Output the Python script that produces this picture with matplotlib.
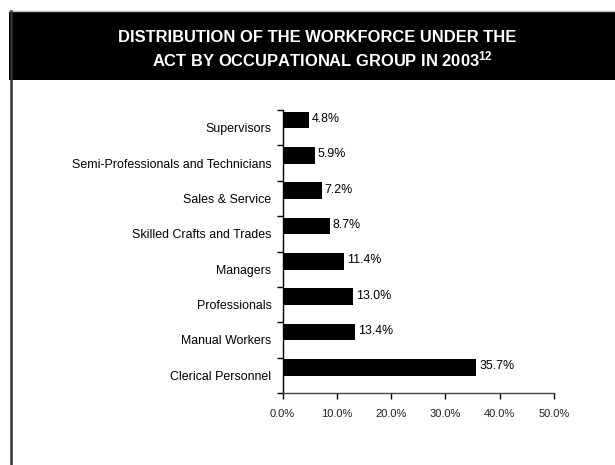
import numpy as np
import matplotlib
matplotlib.use("Agg")
import matplotlib.pyplot as plt
from matplotlib.patches import Rectangle
from matplotlib.lines import Line2D

# Data, top to bottom as in the chart
groups = ["Supervisors", "Semi-Professionals and Technicians", "Sales & Service",
          "Skilled Crafts and Trades", "Managers", "Professionals",
          "Manual Workers", "Clerical Personnel"]
shares = [4.8, 5.9, 7.2, 8.7, 11.4, 13.0, 13.4, 35.7]
xticks = [0, 10, 20, 30, 40, 50]
title_1 = "DISTRIBUTION OF THE WORKFORCE UNDER THE"
title_2 = r"ACT BY OCCUPATIONAL GROUP IN 2003$^{12}$"

plt.rcParams['font.family'] = ['Liberation Sans', 'DejaVu Sans']
plt.rcParams['mathtext.fontset'] = 'custom'
plt.rcParams['mathtext.rm'] = 'Liberation Sans:bold'
plt.rcParams['mathtext.it'] = 'Liberation Sans:bold'

W, H = 615, 465
fig = plt.figure(figsize=(W / 100, H / 100), dpi=100)

# frame: black header band and left border
fig.patches.append(Rectangle((9 / W, 1 - 80 / H), 1, 68 / H, transform=fig.transFigure,
                             facecolor="black", edgecolor="none"))
fig.lines.append(Line2D([9 / W, 1], [1 - 11.5 / H] * 2, transform=fig.transFigure,
                        color="#bbbbbb", lw=1))
fig.lines.append(Line2D([10.5 / W] * 2, [0, 1 - 11 / H], transform=fig.transFigure,
                        color="#333333", lw=1.8))

fig.text(317 / W, 1 - 41.7 / H, title_1, color="white", fontsize=11.9, fontweight="bold",
         ha="center", va="baseline")
fig.text(322 / W, 1 - 66.7 / H, title_2, color="white", fontsize=11.9, fontweight="bold",
         ha="center", va="baseline")

left, right, top, bottom = 282.5, 554, 110, 393
ax = fig.add_axes([left / W, 1 - bottom / H, (right - left) / W, (bottom - top) / H])

pos = np.arange(len(groups))
off = 0.28
ax.barh(pos, shares, height=0.47, color="black")
for p, v in zip(pos, shares):
    ax.text(v + 0.55, p - 0.03, f"{v:.1f}%", va="center", ha="left", fontsize=8.9)

ax.set_ylim(len(groups) - off, -off)
ax.set_xlim(0, 50)
ax.set_yticks(np.arange(len(groups) + 1) - off)
ax.set_yticklabels([])
ax.set_yticks(pos + 0.5 - off, groups, minor=True)
ax.tick_params(axis="y", which="minor", length=0, pad=8, labelsize=8.9)
ax.tick_params(axis="y", which="major", length=4, width=1)
ax.set_xticks(xticks, [f"{t:.1f}%" for t in xticks])
ax.tick_params(axis="x", length=4, width=1, labelsize=8, pad=7.5, labelcolor="#222222")
for s in ["top", "right"]:
    ax.spines[s].set_visible(False)
ax.spines["left"].set_linewidth(1)
ax.spines["bottom"].set_linewidth(1)
ax.spines["bottom"].set_color("#444444")

fig.savefig("out.png", dpi=100)
